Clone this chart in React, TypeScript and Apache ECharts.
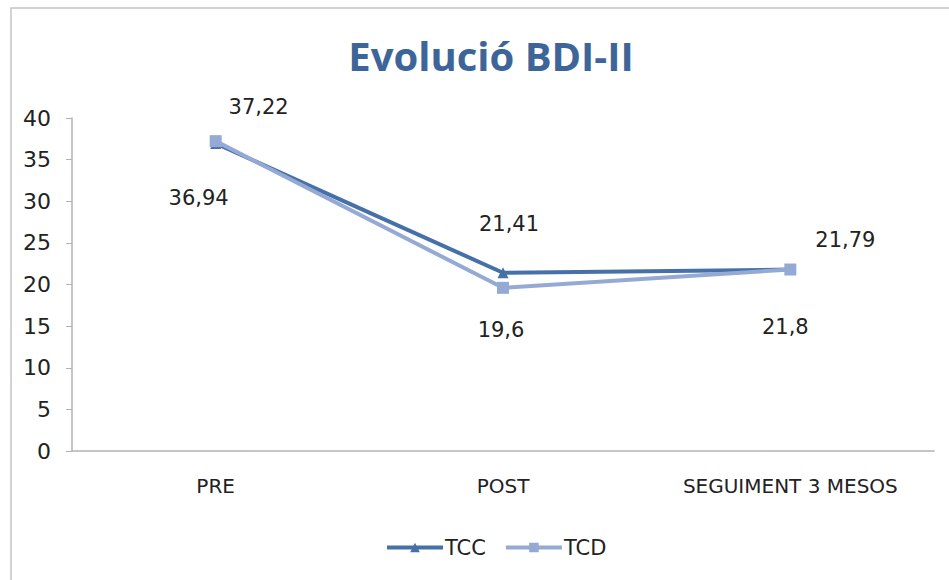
import React, { useEffect, useRef } from "react";
import * as echarts from "echarts";

const categories = ["PRE", "POST", "SEGUIMENT 3 MESOS"];
const tccValues = [36.94, 21.41, 21.79];
const tcdValues = [37.22, 19.6, 21.8];
const yTicks = { min: 0, max: 40, interval: 5 };

const tccOffsets = [[-17, 55], [6, -49], [55, -30]];
const tcdOffsets = [[43, -34], [-2, 42], [-5, 57]];

const fmt = (v: number) => String(v).replace(".", ",");

export default function App() {
  const ref = useRef<HTMLDivElement>(null);
  useEffect(() => {
    const chart = echarts.init(ref.current!, null, { renderer: "svg" });
    const font = "'DejaVu Sans', 'Noto Sans', sans-serif";
    const mkData = (vals: number[], offs: number[][]) =>
      vals.map((v, i) => ({
        value: v,
        label: {
          show: true,
          position: "inside",
          offset: offs[i],
          formatter: fmt(v),
          color: "#222",
          fontSize: 21,
          fontFamily: font,
        },
      }));
    chart.setOption({
      animation: false,
      backgroundColor: "#fff",
      graphic: [
        {
          type: "rect",
          shape: { x: 11, y: 8, width: 960, height: 600 },
          style: { fill: "none", stroke: "#c4c4c4", lineWidth: 1.5 },
          silent: true,
          z: -1,
        },
      ],
      title: {
        text: "Evolució BDI-II",
        left: 486,
        textAlign: "center",
        top: 30,
        textStyle: {
          color: "#3d6599",
          fontSize: 40,
          fontWeight: "bold",
          fontFamily: "'Open Sans', 'Noto Sans', sans-serif",
        },
      },
      grid: { left: 72, right: 15, top: 118, bottom: 129 },
      legend: {
        top: 532,
        left: 380,
        itemWidth: 56,
        itemHeight: 12,
        itemGap: 18,
        lineStyle: { width: 4 },
        textStyle: { color: "#222", fontSize: 21, fontFamily: font, padding: [0, 0, 0, -3] },
        data: ["TCC", "TCD"],
      },
      xAxis: {
        type: "category",
        data: categories,
        boundaryGap: true,
        axisLine: { lineStyle: { color: "#b3b3b3", width: 1.5 } },
        axisTick: { show: false },
        axisLabel: { color: "#222", fontSize: 20, fontFamily: font, margin: 25, interval: 0 },
      },
      yAxis: {
        type: "value",
        min: yTicks.min,
        max: yTicks.max,
        interval: yTicks.interval,
        splitLine: { show: false },
        axisLine: { show: true, lineStyle: { color: "#b3b3b3", width: 1.5 } },
        axisTick: { show: true, inside: false, length: 6, lineStyle: { color: "#b3b3b3" } },
        axisLabel: { color: "#222", fontSize: 22, fontFamily: font, margin: 21 },
      },
      series: [
        {
          name: "TCC",
          type: "line",
          data: mkData(tccValues, tccOffsets),
          symbol: "triangle",
          symbolSize: 11,
          lineStyle: { color: "#4670a8", width: 4 },
          itemStyle: { color: "#4670a8" },
          z: 2,
        },
        {
          name: "TCD",
          type: "line",
          data: mkData(tcdValues, tcdOffsets),
          symbol: "rect",
          symbolSize: 12,
          lineStyle: { color: "#94aad4", width: 4 },
          itemStyle: { color: "#94aad4" },
          z: 3,
        },
      ],
    });
    return () => chart.dispose();
  }, []);
  return (
    <div
      ref={ref}
      style={{ position: "fixed", left: 0, top: 0, width: 949, height: 580 }}
    />
  );
}
